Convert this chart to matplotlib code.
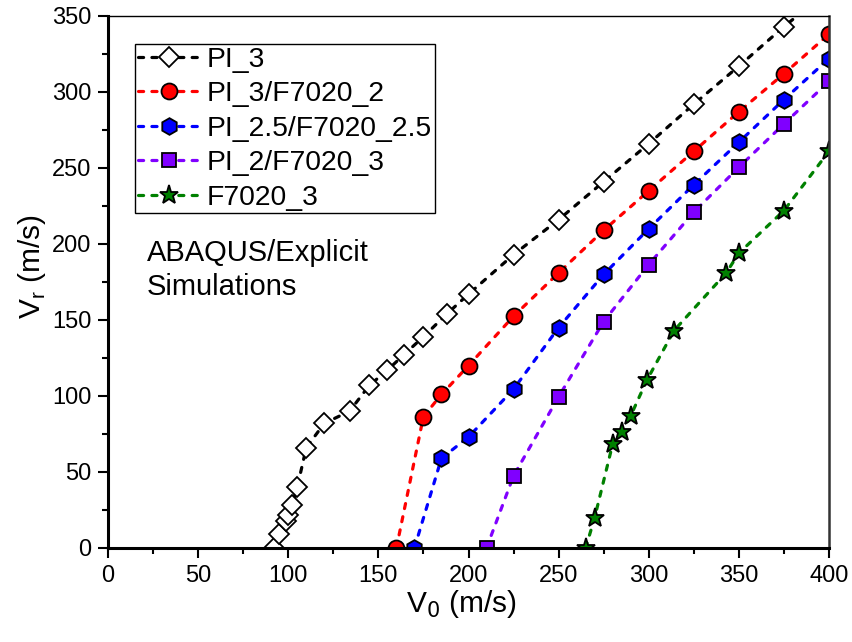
import matplotlib
matplotlib.use("Agg")
import matplotlib.pyplot as plt
from matplotlib.ticker import MultipleLocator

plt.rcParams['font.family'] = ['Liberation Sans', 'DejaVu Sans']

# ---- data ----
pi3_x = [92, 95, 99, 100, 102, 105, 110, 120, 134, 145, 155, 164, 175, 188, 200, 225, 250, 275, 300, 325, 350, 375, 400]
pi3_y = [0, 9, 18, 22, 28, 40, 66, 82, 90, 107, 117, 127, 139, 154, 167, 193, 216, 241, 266, 292, 317, 343, 367]

pi3f2_x = [160, 175, 185, 200, 225, 250, 275, 300, 325, 350, 375, 400]
pi3f2_y = [0, 86.5, 101, 120, 152.5, 181, 209, 235, 261, 287, 312, 338]

pi25f25_x = [170, 185, 200, 225, 250, 275, 300, 325, 350, 375, 400]
pi25f25_y = [0, 59, 73, 104.5, 145, 180, 210, 239, 267, 295, 322]

pi2f3_x = [210, 225, 250, 275, 300, 325, 350, 375, 400]
pi2f3_y = [0, 47.5, 99.5, 149, 186.5, 221, 250.5, 279, 307]

f3_x = [265, 270, 280, 285, 290, 299, 314, 343, 350, 375, 400]
f3_y = [0, 20, 68.5, 76.5, 87, 110.5, 143, 181, 194, 222, 261]

labels = ['PI_3', 'PI_3/F7020_2', 'PI_2.5/F7020_2.5', 'PI_2/F7020_3', 'F7020_3']
xticks = [0, 50, 100, 150, 200, 250, 300, 350, 400]
yticks = [0, 50, 100, 150, 200, 250, 300, 350]

series = [
    (pi3_x, pi3_y, 'black', 'white', 'D', 10.5),
    (pi3f2_x, pi3f2_y, '#FF0000', '#FF0000', 'o', 11.5),
    (pi25f25_x, pi25f25_y, '#0000FF', '#0000FF', 'h', 12),
    (pi2f3_x, pi2f3_y, '#8000FF', '#8000FF', 's', 10.5),
    (f3_x, f3_y, '#008000', '#008000', '*', 14),
]

fig = plt.figure(figsize=(8.52, 6.42), dpi=100)
ax = fig.add_axes([108/852, 1-548/642, (829-108)/852, (548-16)/642])

for (xs, ys, lc, fc, mk, ms), lab in zip(series, labels):
    ax.plot(xs, ys, color=lc, linestyle=(0, (1.6, 2.6)), linewidth=2.3,
            dash_capstyle='round', marker=mk, markersize=ms,
            markerfacecolor=fc, markeredgecolor='black', markeredgewidth=1.3,
            label=lab)

ax.set_xlim(0, 400)
ax.set_ylim(0, 350)
ax.set_xticks(xticks)
ax.set_yticks(yticks)
ax.xaxis.set_minor_locator(MultipleLocator(25))
ax.yaxis.set_minor_locator(MultipleLocator(25))
ax.tick_params(which='major', direction='out', length=7, width=1.5, labelsize=17, pad=5)
ax.tick_params(which='minor', direction='out', length=4, width=1.5)
ax.tick_params(top=False, right=False)

ax.spines['left'].set_linewidth(2.2)
ax.spines['bottom'].set_linewidth(2.2)
ax.spines['top'].set_linewidth(1.0)
ax.spines['right'].set_linewidth(1.8)
ax.spines['right'].set_color('#333333')

ax.set_xlabel(r'V$_0$ (m/s)', fontsize=21.5)
ax.set_ylabel(r'V$_\mathregular{r}$ (m/s)', fontsize=21.5)
ax.xaxis.set_label_coords((461-108)/721, -(588-548)/532)
ax.yaxis.set_label_coords(-0.083, (548-267)/532)

leg = ax.legend(loc='upper left', bbox_to_anchor=(27/721, 1-28/532), fontsize=20.3,
                frameon=True, fancybox=False, shadow=False, edgecolor='black',
                framealpha=1, borderpad=0.1, borderaxespad=0, handlelength=2.2,
                handletextpad=0.25, labelspacing=0.3)
leg.get_frame().set_linewidth(1.0)

fig.text(147/852, 1-261/642, 'ABAQUS/Explicit', fontsize=21, va='baseline', ha='left')
fig.text(147/852, 1-295/642, 'Simulations', fontsize=21, va='baseline', ha='left')

fig.savefig('out.png', dpi=100)
